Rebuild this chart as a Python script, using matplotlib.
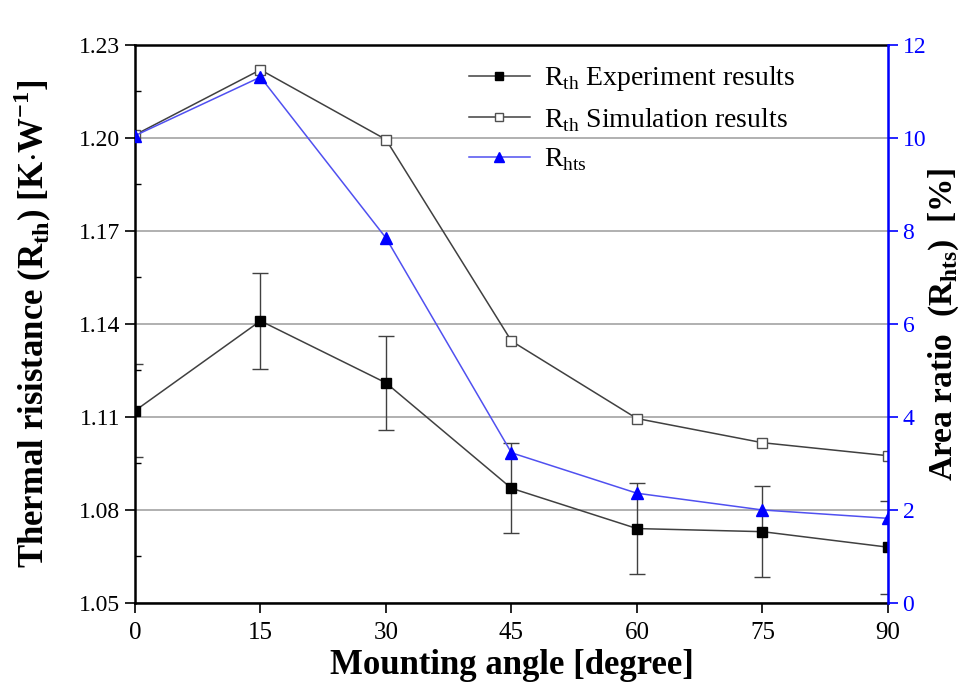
import numpy as np
import matplotlib
matplotlib.use("Agg")
import matplotlib.pyplot as plt
from matplotlib.lines import Line2D
from matplotlib.ticker import MultipleLocator

plt.rcParams["font.family"] = ["Liberation Serif", "DejaVu Serif"]
plt.rcParams["mathtext.fontset"] = "custom"
plt.rcParams["mathtext.rm"] = "Liberation Serif"
plt.rcParams["mathtext.bf"] = "Liberation Serif:bold"

# mounting angle [degree]
angle = [0, 15, 30, 45, 60, 75, 90]
# thermal resistance [K/W]
rth_exp = [1.112, 1.141, 1.121, 1.087, 1.074, 1.073, 1.068]
rth_exp_err = [0.015, 0.0155, 0.0152, 0.0145, 0.0147, 0.0146, 0.015]
rth_sim = [1.201, 1.222, 1.1995, 1.1345, 1.1095, 1.1017, 1.0975]
# area ratio [%]
r_hts = [10.05, 11.31, 7.85, 3.23, 2.36, 2.0, 1.82]

blue = "#0000ff"
dark = "#404040"
light_blue = "#5050f0"

fig = plt.figure(figsize=(9.62, 6.91), dpi=100)
ax = fig.add_axes([0.1403, 0.1274, 0.7827, 0.8075])
ax2 = ax.twinx()

ax.set_xlim(0, 90)
ax.set_ylim(1.05, 1.23)
ax2.set_ylim(0, 12)

ax.yaxis.grid(True, color="#b0b0b0", linewidth=1.4)
ax.set_axisbelow(True)

ax.errorbar(angle, rth_exp, yerr=rth_exp_err, color=dark, lw=1.1,
            marker="s", ms=7, mfc="black", mec="black",
            ecolor=dark, elinewidth=1, capsize=6, capthick=1)
ax.plot(angle, rth_sim, color=dark, lw=1.1, marker="s", ms=7,
        mfc="white", mec="#505050", mew=1)
ax2.plot(angle, r_hts, color=light_blue, lw=1.1, marker="^", ms=8,
         mfc=blue, mec=blue)

ax.set_xticks(angle)
ax.yaxis.set_major_locator(MultipleLocator(0.03))
ax.yaxis.set_minor_locator(MultipleLocator(0.015))
ax.yaxis.set_major_formatter(plt.FormatStrFormatter("%.2f"))
ax2.yaxis.set_major_locator(MultipleLocator(2))

ax.tick_params(axis="both", which="major", direction="out", length=7,
               width=1.2, labelsize=17)
ax.tick_params(axis="x", which="major", labelsize=18, pad=7)
ax.tick_params(axis="y", which="minor", direction="in", length=4, width=1)
ax.tick_params(axis="x", which="both", top=False)
ax2.tick_params(axis="y", which="major", direction="out", length=7,
                width=1.2, labelsize=17, colors=blue)

for s in ["left", "bottom", "top"]:
    ax.spines[s].set_linewidth(1.8)
ax2.spines["right"].set_color(blue)
ax2.spines["right"].set_linewidth(1.8)
ax2.spines["left"].set_visible(False)
ax2.spines["top"].set_visible(False)
ax2.spines["bottom"].set_visible(False)

ax.set_xlabel("Mounting angle [degree]", fontsize=25, fontweight="bold",
              labelpad=3)
ax.set_ylabel(r"Thermal risistance (R$_{\mathbf{th}}$) [K$\cdot$W$^{\mathbf{-1}}$]",
              fontsize=25, fontweight="bold", labelpad=18)
ax2.set_ylabel(r"Area ratio  (R$_{\mathbf{hts}}$)  [%]", fontsize=24,
               fontweight="bold", labelpad=0)

# legend proxies without the error bars
handles = [
    Line2D([], [], color=dark, lw=1.1, marker="s", ms=6, mfc="black",
           mec="black"),
    Line2D([], [], color=dark, lw=1.1, marker="s", ms=6, mfc="white",
           mec="#505050"),
    Line2D([], [], color=light_blue, lw=1.1, marker="^", ms=7, mfc=blue,
           mec=blue),
]
labels = [r"R$_{\mathrm{th}}$ Experiment results",
          r"R$_{\mathrm{th}}$ Simulation results",
          r"R$_{\mathrm{hts}}$"]
ax.legend(handles, labels, loc="upper left", bbox_to_anchor=(0.421, 0.995),
          frameon=False, fontsize=20, handlelength=2.2, handletextpad=0.5,
          labelspacing=0.45, borderaxespad=0.2)

fig.savefig("out.png", dpi=100)
